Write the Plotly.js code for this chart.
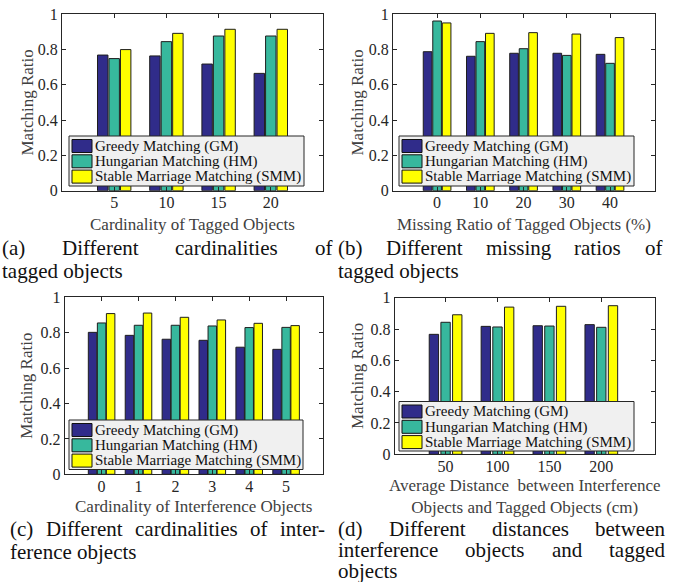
<!DOCTYPE html>
<html>
<head>
<meta charset="utf-8">
<script src="https://cdn.plot.ly/plotly-3.0.1.min.js"></script>
<style>html,body{margin:0;padding:0;background:#fff;}#chart{width:676px;height:582px;}</style>
</head>
<body>
<div id="chart"></div>
<script>
// ---------------- data ----------------
const seriesNames = ['Greedy Matching (GM)', 'Hungarian Matching (HM)', 'Stable Marriage Matching (SMM)'];

const catsA = ['5', '10', '15', '20'];
const gmA  = [0.769, 0.764, 0.718, 0.665];
const hmA  = [0.749, 0.845, 0.877, 0.877];
const smmA = [0.800, 0.892, 0.915, 0.915];

const catsB = ['0', '10', '20', '30', '40'];
const gmB  = [0.788, 0.762, 0.779, 0.779, 0.773];
const hmB  = [0.962, 0.845, 0.805, 0.767, 0.722];
const smmB = [0.951, 0.892, 0.896, 0.888, 0.868];

const catsC = ['0', '1', '2', '3', '4', '5'];
const gmC  = [0.802, 0.785, 0.763, 0.757, 0.718, 0.706];
const hmC  = [0.855, 0.842, 0.842, 0.838, 0.829, 0.830];
const smmC = [0.908, 0.911, 0.887, 0.872, 0.853, 0.840];

const catsD = ['50', '100', '150', '200'];
const gmD  = [0.766, 0.817, 0.821, 0.828];
const hmD  = [0.843, 0.813, 0.819, 0.811];
const smmD = [0.891, 0.940, 0.945, 0.949];

const yTickVals = [0, 0.2, 0.4, 0.6, 0.8, 1];
const yTickText = ['0', '0.2', '0.4', '0.6', '0.8', '1'];

const xTitles = ['Cardinality of Tagged Objects',
                 'Missing Ratio of Tagged Objects (%)',
                 'Cardinality of Interference Objects',
                 'Average Distance  between Interference<br>Objects and Tagged Objects (cm)'];
const yTitle = 'Matching Ratio';

const captions = [
  {first: '(a) Different cardinalities of', rest: ['tagged objects']},
  {first: '(b) Different missing ratios of', rest: ['tagged objects']},
  {first: '(c) Different cardinalities of inter-', rest: ['ference objects']},
  {first: '(d) Different distances between', rest: ['interference objects and tagged', 'objects'], justifyRest: [true, false]}
];

// ---------------- styling / layout ----------------
const W = 676, H = 582;
const fx = px => px / W;
const fy = py => 1 - py / H;
const FONT = '"Liberation Serif", "Times New Roman", Times, serif';
const colors = ['#302c8a', '#37b89d', '#ffff00'];
const AX = '#262626';

const panels = [
  {cats: catsA, vals: [gmA, hmA, smmA], x: [62, 323], y: [14.3, 190.7], range: [-1, 4], w: 0.20, pitch: 0.22,
   leg: [69, 136, 235, 50], yTitleX: 27, titleY: 225, cap: {L: 0, R: 330, y1: 248, y2: 271}},
  {cats: catsB, vals: [gmB, hmB, smmB], x: [393, 655], y: [14.3, 190.7], range: [-1.02, 5.04], w: 0.20, pitch: 0.22,
   leg: [399, 136, 235, 50], yTitleX: 357, titleY: 225, cap: {L: 336, R: 660, y1: 248, y2: 271}},
  {cats: catsC, vals: [gmC, hmC, smmC], x: [64.7, 323], y: [297.3, 474.3], range: [-1, 6], w: 0.23, pitch: 0.245,
   leg: [69, 420, 234, 49.5], yTitleX: 27, titleY: 506, cap: {L: 8, R: 323, y1: 529, y2: 552}},
  {cats: catsD, vals: [gmD, hmD, smmD], x: [394.7, 655.3], y: [297.7, 454.3], range: [-0.98, 4.04], w: 0.18, pitch: 0.225,
   leg: [399, 401.5, 235, 49.5], yTitleX: 357, titleY: 496, cap: {L: 336, R: 663, y1: 529, y2: 550, y3: 571}}
];

const traces = [];
const layout = {
  width: W, height: H,
  margin: {l: 0, r: 0, t: 0, b: 0},
  paper_bgcolor: '#ffffff', plot_bgcolor: '#ffffff',
  font: {family: FONT, color: AX},
  showlegend: false,
  barmode: 'overlay',
  shapes: [], annotations: []
};

panels.forEach((p, i) => {
  const n = i + 1;
  const xa = n === 1 ? 'x' : 'x' + n;
  const ya = n === 1 ? 'y' : 'y' + n;
  const idx = p.cats.map((c, k) => k);
  p.vals.forEach((v, s) => {
    traces.push({
      type: 'bar', x: idx, y: v, xaxis: xa, yaxis: ya,
      name: seriesNames[s], showlegend: false,
      width: p.w, offset: (s - 1) * p.pitch - p.w / 2,
      marker: {color: colors[s], line: {color: '#1e1e1e', width: 1}},
      hoverinfo: 'skip'
    });
  });
  layout['xaxis' + (n === 1 ? '' : n)] = {
    domain: [fx(p.x[0]), fx(p.x[1])], range: p.range, anchor: ya,
    tickvals: idx, ticktext: p.cats, ticks: 'inside', ticklen: 4, tickcolor: AX,
    ticklabelstandoff: -3,
    showline: true, linecolor: AX, linewidth: 1, mirror: 'ticks',
    showgrid: false, zeroline: false, fixedrange: true,
    tickfont: {family: FONT, size: 16, color: AX}
  };
  // x-axis title, placed precisely below the tick labels
  layout.annotations.push({
    xref: 'paper', yref: 'paper', x: fx((p.x[0] + p.x[1]) / 2), y: fy(p.titleY),
    text: xTitles[i], showarrow: false, xanchor: 'center', yanchor: 'middle',
    font: {family: FONT, size: 17, color: '#404040'}
  });
  layout['yaxis' + (n === 1 ? '' : n)] = {
    domain: [fy(p.y[1]), fy(p.y[0])], range: [0, 1], anchor: xa,
    tickvals: yTickVals, ticktext: yTickText, ticks: 'inside', ticklen: 4, tickcolor: AX,
    showline: true, linecolor: AX, linewidth: 1, mirror: 'ticks',
    showgrid: false, zeroline: false, fixedrange: true,
    tickfont: {family: FONT, size: 16, color: AX}
  };
  layout.annotations.push({
    xref: 'paper', yref: 'paper', x: fx(p.yTitleX), y: fy((p.y[0] + p.y[1]) / 2),
    text: yTitle, textangle: -90, showarrow: false, xanchor: 'center', yanchor: 'middle',
    font: {family: FONT, size: 17, color: '#404040'}
  });
  // legend box
  const [L, T, LW, LH] = p.leg;
  layout.shapes.push({type: 'rect', xref: 'paper', yref: 'paper', layer: 'above',
    x0: fx(L), x1: fx(L + LW), y0: fy(T + LH), y1: fy(T),
    fillcolor: '#f0f0f0', line: {color: AX, width: 1}});
  seriesNames.forEach((nm, s) => {
    const top = T + 3.5 + s * 15.3;
    layout.shapes.push({type: 'rect', xref: 'paper', yref: 'paper', layer: 'above',
      x0: fx(L + 3), x1: fx(L + 23), y0: fy(top + 13), y1: fy(top),
      fillcolor: colors[s], line: {color: '#111', width: 1}});
    layout.annotations.push({xref: 'paper', yref: 'paper', x: fx(L + 24), y: fy(top + 6.8),
      text: nm, showarrow: false, xanchor: 'left', yanchor: 'middle',
      font: {family: FONT, size: 15, color: '#111'}});
  });
});

// captions: justified first lines, measured with canvas
const CAP_FONT_SIZE = 21;
const ctx = document.createElement('canvas').getContext('2d');
ctx.font = CAP_FONT_SIZE + 'px "Liberation Serif"';
function justify(line, L, R, y) {
  const words = line.split(' ');
  const widths = words.map(w => ctx.measureText(w).width);
  const total = widths.reduce((a, b) => a + b, 0);
  const gap = words.length > 1 ? (R - L - total) / (words.length - 1) : 0;
  let x = L;
  words.forEach((w, k) => {
    layout.annotations.push({xref: 'paper', yref: 'paper', x: fx(x), y: fy(y), text: w,
      showarrow: false, xanchor: 'left', yanchor: 'middle',
      font: {family: FONT, size: CAP_FONT_SIZE, color: '#111'}});
    x += widths[k] + gap;
  });
}
function plain(line, L, y) {
  layout.annotations.push({xref: 'paper', yref: 'paper', x: fx(L), y: fy(y), text: line,
    showarrow: false, xanchor: 'left', yanchor: 'middle',
    font: {family: FONT, size: CAP_FONT_SIZE, color: '#111'}});
}
captions.forEach((c, i) => {
  const cp = panels[i].cap;
  justify(c.first, cp.L, cp.R, cp.y1);
  c.rest.forEach((line, k) => {
    const y = k === 0 ? cp.y2 : cp.y3;
    if (c.justifyRest && c.justifyRest[k]) justify(line, cp.L, cp.R, y);
    else plain(line, cp.L, y);
  });
});

Plotly.newPlot('chart', traces, layout, {staticPlot: true, displayModeBar: false});
</script>
</body>
</html>
